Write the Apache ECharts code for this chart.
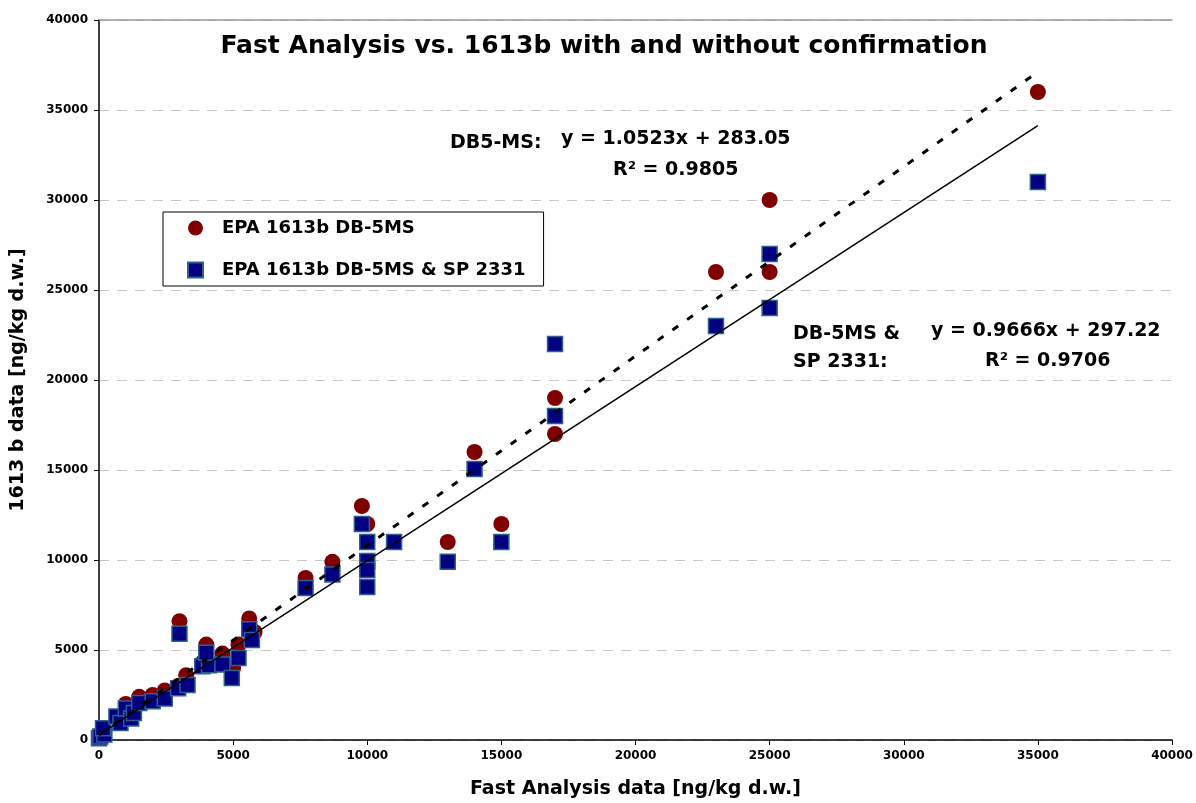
<!DOCTYPE html>
<html lang="en">
<head>
    <meta charset="utf-8">
    <title>Fast Analysis vs. 1613b</title>
    <script src="https://cdn.jsdelivr.net/npm/echarts@6/dist/echarts.min.js"></script>
</head>
<body style="margin:0; background:#fff;">
<div id="main" style="width: 1196px; height: 803px;"></div>

<script type="text/javascript">
    // EPA 1613b DB-5MS (circles)
    const db5X = [50, 150, 700, 1000, 1500, 2000, 2450, 2950, 3250, 3000, 3850, 4000, 4600, 5000, 5200,
        5600, 5800, 7700, 8700, 9800, 10000, 10000, 11000, 13000, 14000, 15000, 17000, 17000, 23000,
        25000, 25000, 35000];
    const db5Y = [200, 500, 1300, 2000, 2400, 2500, 2750, 3000, 3600, 6600, 4300, 5300, 4800, 4000, 5300,
        6750, 6000, 9000, 9900, 13000, 12000, 11000, 11000, 11000, 16000, 12000, 19000, 17000, 26000,
        30000, 26000, 36000];

    // EPA 1613b DB-5MS & SP 2331 (squares)
    const dualX = [0, 50, 200, 150, 650, 800, 1000, 1200, 1300, 1500, 2000, 2450, 2950, 3300, 3000, 3850,
        4100, 4000, 4600, 4950, 5200, 5600, 5700, 7700, 8700, 9800, 10000, 10000, 10000, 10000, 11000,
        13000, 14000, 15000, 17000, 17000, 23000, 25000, 25000, 35000];
    const dualY = [100, 200, 300, 650, 1300, 950, 1750, 1200, 1500, 2050, 2150, 2300, 2870, 3050, 5900, 4100,
        4150, 4850, 4200, 3450, 4550, 6150, 5550, 8450, 9200, 12000, 11000, 9950, 9450, 8500, 11000,
        9900, 15050, 11000, 22000, 18000, 23000, 27000, 24000, 31000];

    // linear fits printed on the chart
    const fitDb5 = {slope: 1.0523, intercept: 283.05, r2: 0.9805};
    const fitDual = {slope: 0.9666, intercept: 297.22, r2: 0.9706};
    const fitRange = [0, 35000];

    const FONT = 'DejaVu Sans';
    const NOTE_FONT = 'bold 19px "DejaVu Sans"';

    function pairs(xs, ys) {
        return xs.map(function (x, i) { return [x, ys[i]]; });
    }
    function fitLine(f) {
        return fitRange.map(function (x) { return [x, f.slope * x + f.intercept]; });
    }
    function note(x, y, text) {
        return {type: 'text', left: x, top: y, style: {text: text, font: NOTE_FONT, fill: '#000'}};
    }

    let myChart = echarts.init(document.getElementById('main'));
    const option = {
        animation: false,
        backgroundColor: '#fff',
        textStyle: {fontFamily: FONT},
        title: {
            text: 'Fast Analysis vs. 1613b with and without confirmation',
            left: 599, top: 29, textAlign: 'center',
            textStyle: {fontFamily: FONT, fontSize: 25, fontWeight: 'bold', color: '#000'}
        },
        legend: {
            orient: 'vertical',
            left: 163, top: 212,
            padding: [7, 18, 7, 24],
            itemGap: 24,
            itemWidth: 15, itemHeight: 15,
            borderColor: '#000', borderWidth: 1,
            backgroundColor: '#fff',
            textStyle: {fontFamily: FONT, fontSize: 18, fontWeight: 'bold', color: '#000', padding: [0, 0, 0, 14]},
            data: ['EPA 1613b DB-5MS', 'EPA 1613b DB-5MS & SP 2331']
        },
        grid: {left: 99, right: 24, top: 20, bottom: 63, outerBoundsMode: 'none'},
        xAxis: [{
            type: 'value', min: 0, max: 40000, interval: 5000,
            name: 'Fast Analysis data [ng/kg d.w.]',
            nameLocation: 'middle', nameGap: 40,
            nameTextStyle: {fontFamily: FONT, fontSize: 19, fontWeight: 'bold', color: '#000'},
            axisLine: {lineStyle: {color: '#000', width: 1.5}},
            axisTick: {inside: false, length: 5, lineStyle: {color: '#000'}},
            axisLabel: {margin: 10, fontFamily: FONT, fontSize: 12, fontWeight: 'bold', color: '#000',
                formatter: function (v) { return String(v); }},
            splitLine: {show: false}
        }, {
            type: 'value', min: 0, max: 40000, position: 'top',
            axisLine: {show: true, lineStyle: {color: '#999', width: 1.5}},
            axisTick: {show: false}, axisLabel: {show: false}, splitLine: {show: false}
        }],
        yAxis: {
            type: 'value', min: 0, max: 40000, interval: 5000,
            name: '1613 b data [ng/kg d.w.]',
            nameLocation: 'middle', nameGap: 71,
            nameTextStyle: {fontFamily: FONT, fontSize: 19, fontWeight: 'bold', color: '#000'},
            axisLine: {show: true, lineStyle: {color: '#000', width: 1.5}},
            axisTick: {show: true, inside: false, length: 5, lineStyle: {color: '#000'}},
            axisLabel: {margin: 11, fontFamily: FONT, fontSize: 12, fontWeight: 'bold', color: '#000',
                formatter: function (v) { return String(v); }},
            splitLine: {lineStyle: {color: '#c8c8c8', type: [10, 8], width: 1}}
        },
        series: [
            {
                name: 'EPA 1613b DB-5MS', type: 'scatter',
                symbol: 'circle', symbolSize: 16,
                itemStyle: {color: '#800000', opacity: 1},
                data: pairs(db5X, db5Y)
            },
            {
                name: 'EPA 1613b DB-5MS & SP 2331', type: 'scatter',
                symbol: 'rect', symbolSize: 15,
                itemStyle: {color: '#000080', borderColor: '#2f5f8f', borderWidth: 1.5, opacity: 1},
                data: pairs(dualX, dualY)
            },
            {
                name: 'fit DB5-MS', type: 'line', showSymbol: false, symbol: 'none', silent: true,
                lineStyle: {color: '#000', width: 3, type: [7, 11]},
                data: fitLine(fitDb5)
            },
            {
                name: 'fit DB-5MS & SP 2331', type: 'line', showSymbol: false, symbol: 'none', silent: true,
                lineStyle: {color: '#000', width: 1.5},
                data: fitLine(fitDual)
            }
        ],
        graphic: [
            note(450, 134, 'DB5-MS:'),
            note(561, 130, 'y = ' + fitDb5.slope + 'x + ' + fitDb5.intercept),
            note(613, 161, 'R² = ' + fitDb5.r2),
            note(793, 325, 'DB-5MS &'),
            note(793, 353, 'SP 2331:'),
            note(931, 322, 'y = ' + fitDual.slope + 'x + ' + fitDual.intercept),
            note(985, 352, 'R² = ' + fitDual.r2)
        ]
    };
    myChart.setOption(option);
</script>
</body>
</html>
